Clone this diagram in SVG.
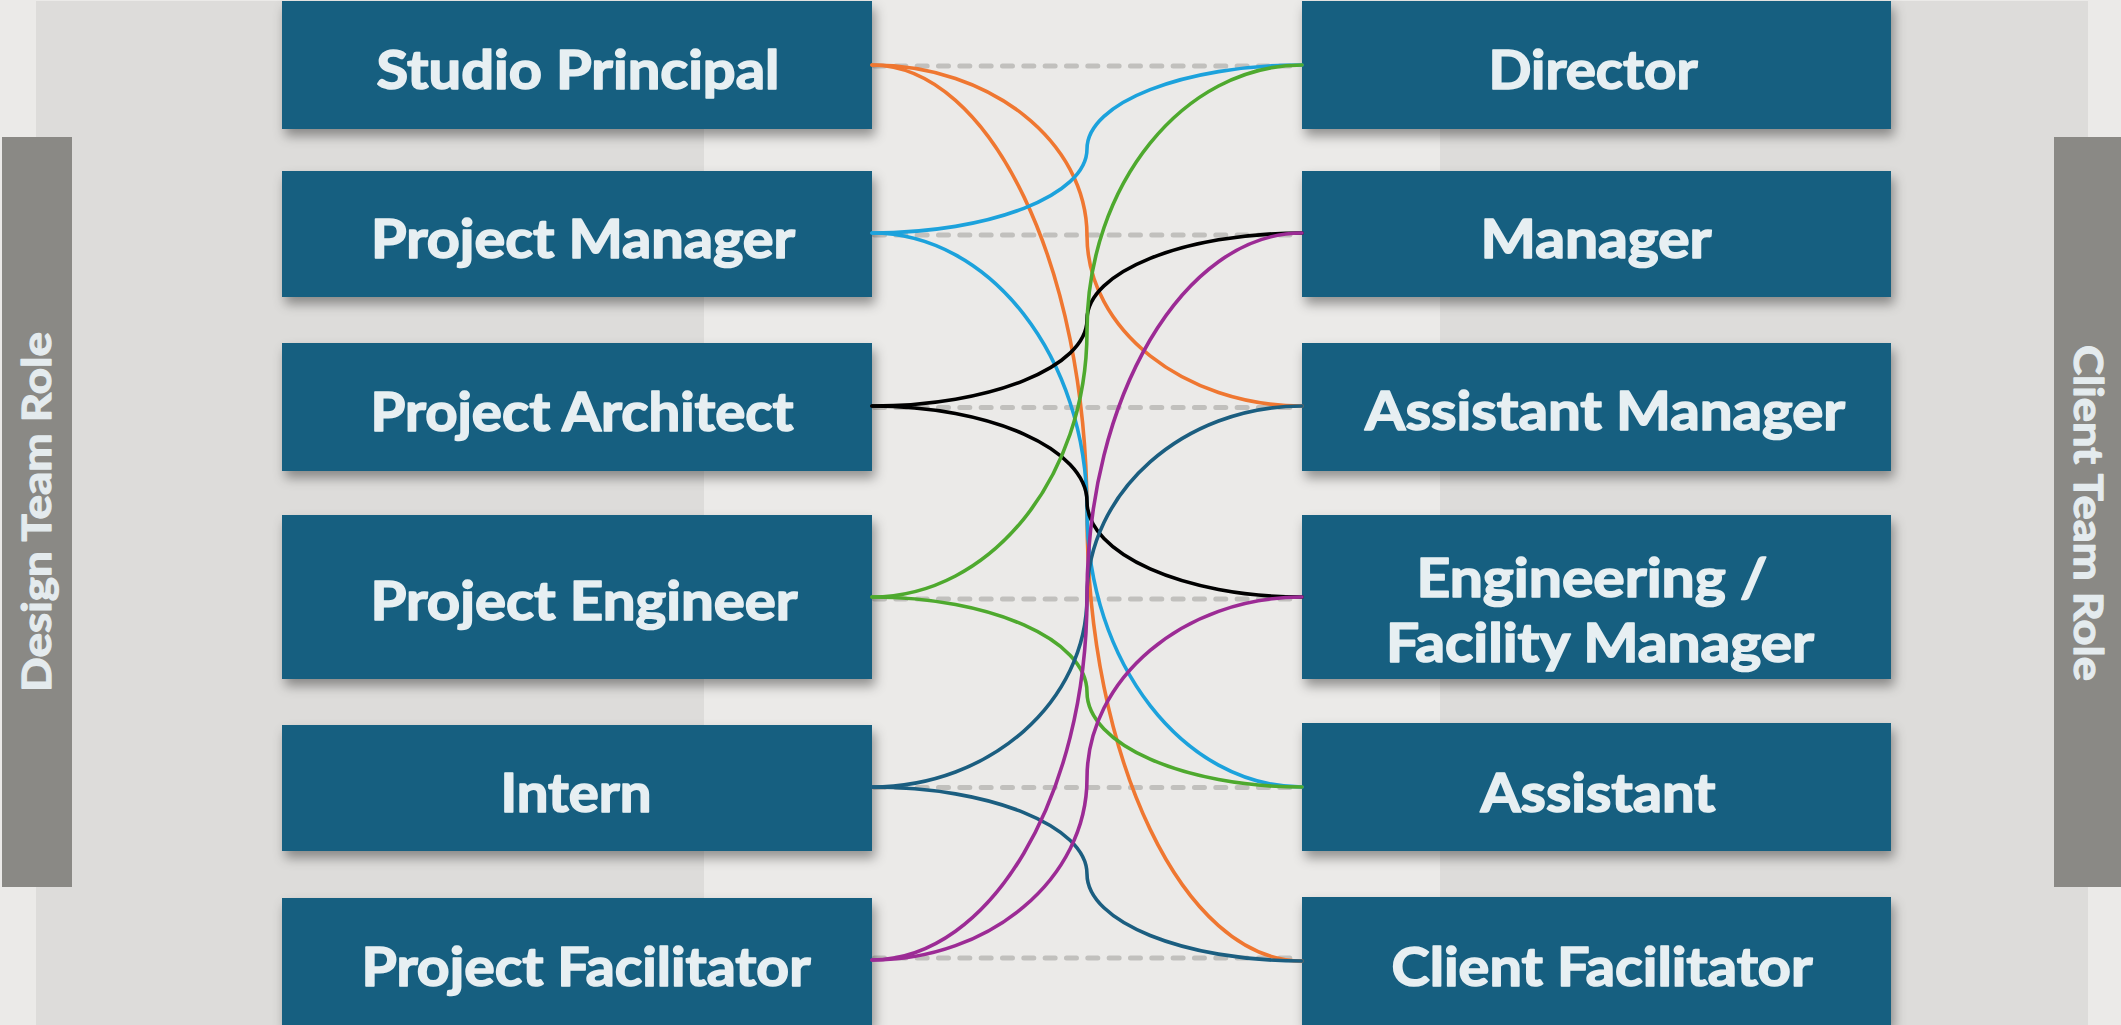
<svg xmlns="http://www.w3.org/2000/svg" width="2121" height="1025" viewBox="0 0 2121 1025">
  <defs>
    <filter id="boxShadow" x="-5%" y="-10%" width="115%" height="140%">
      <feDropShadow dx="3" dy="7" stdDeviation="6" flood-color="#000" flood-opacity="0.38"/>
    </filter>
    <style>
      .box { fill: #165e80; filter: url(#boxShadow); }
      .label { font-family: "Lato", "Liberation Sans", sans-serif; font-weight: 700; font-size: 54px; fill: #e7eff2; stroke: #e7eff2; stroke-width: 1.6; stroke-linejoin: round; text-anchor: middle; }
      .side { fill: #8a8985; }
      .sideText { font-family: "Lato", "Liberation Sans", sans-serif; font-weight: 700; font-size: 40px; fill: #e4ebee; stroke: #e4ebee; stroke-width: 1.2; stroke-linejoin: round; text-anchor: middle; }
      .guide { fill: none; stroke: #c1c0bd; stroke-width: 5; stroke-linecap: round; stroke-dasharray: 10 11.33; }
      .link { fill: none; stroke-width: 3.6; stroke-linecap: round; }
      .orange { stroke: #ef7731; }
      .blue { stroke: #1ca2dc; }
      .black { stroke: #000000; }
      .green { stroke: #4ea92e; }
      .teal { stroke: #1b5e80; }
      .purple { stroke: #9c2b95; }
    </style>
  </defs>

  <!-- background and column panels -->
  <rect x="0" y="0" width="2121" height="1025" fill="#ebeae8"/>
  <rect x="36" y="1" width="668" height="1024" fill="#dddcda"/>
  <rect x="1440" y="1" width="648" height="1024" fill="#dddcda"/>

  <!-- side headers -->
  <g id="design-team-role">
    <rect class="side" x="2" y="137" width="70" height="750"/>
    <text class="sideText" transform="translate(51 512) rotate(-90)" textLength="360" lengthAdjust="spacingAndGlyphs">Design Team Role</text>
  </g>
  <g id="client-team-role">
    <rect class="side" x="2054" y="137" width="67" height="750"/>
    <text class="sideText" transform="translate(2074 513) rotate(90)" textLength="336" lengthAdjust="spacingAndGlyphs">Client Team Role</text>
  </g>

  <!-- dashed row guides -->
  <g id="guides">
    <path class="guide" d="M874.5 66H1300"/>
    <path class="guide" d="M874.5 235H1300"/>
    <path class="guide" d="M874.5 407.5H1300"/>
    <path class="guide" d="M874.5 599H1300"/>
    <path class="guide" d="M874.5 787.5H1300"/>
    <path class="guide" d="M874.5 958H1300"/>
  </g>

  <!-- design team nodes -->
  <g id="studio-principal">
    <rect class="box" x="282" y="1" width="590" height="128"/>
    <text class="label" x="578" y="89" textLength="403" lengthAdjust="spacingAndGlyphs">Studio Principal</text>
  </g>
  <g id="project-manager">
    <rect class="box" x="282" y="171" width="590" height="126"/>
    <text class="label" x="583" y="258" textLength="424" lengthAdjust="spacingAndGlyphs">Project Manager</text>
  </g>
  <g id="project-architect">
    <rect class="box" x="282" y="343" width="590" height="128"/>
    <text class="label" x="582" y="431" textLength="423" lengthAdjust="spacingAndGlyphs">Project Architect</text>
  </g>
  <g id="project-engineer">
    <rect class="box" x="282" y="515" width="590" height="164"/>
    <text class="label" x="584" y="620" textLength="427" lengthAdjust="spacingAndGlyphs">Project Engineer</text>
  </g>
  <g id="intern">
    <rect class="box" x="282" y="725" width="590" height="126"/>
    <text class="label" x="576" y="812" textLength="151" lengthAdjust="spacingAndGlyphs">Intern</text>
  </g>
  <g id="project-facilitator">
    <rect class="box" x="282" y="898" width="590" height="127"/>
    <text class="label" x="586" y="986" textLength="449" lengthAdjust="spacingAndGlyphs">Project Facilitator</text>
  </g>

  <!-- client team nodes -->
  <g id="director">
    <rect class="box" x="1302" y="1" width="589" height="128"/>
    <text class="label" x="1593" y="89" textLength="209" lengthAdjust="spacingAndGlyphs">Director</text>
  </g>
  <g id="manager">
    <rect class="box" x="1302" y="171" width="589" height="126"/>
    <text class="label" x="1596" y="258" textLength="231" lengthAdjust="spacingAndGlyphs">Manager</text>
  </g>
  <g id="assistant-manager">
    <rect class="box" x="1302" y="343" width="589" height="128"/>
    <text class="label" x="1605" y="430" textLength="480" lengthAdjust="spacingAndGlyphs">Assistant Manager</text>
  </g>
  <g id="engineering-facility-manager">
    <rect class="box" x="1302" y="515" width="589" height="164"/>
    <text class="label" x="1592" y="597" textLength="351" lengthAdjust="spacingAndGlyphs">Engineering /</text>
    <text class="label" x="1600" y="662" textLength="428" lengthAdjust="spacingAndGlyphs">Facility Manager</text>
  </g>
  <g id="assistant">
    <rect class="box" x="1302" y="723" width="589" height="128"/>
    <text class="label" x="1598" y="812" textLength="235" lengthAdjust="spacingAndGlyphs">Assistant</text>
  </g>
  <g id="client-facilitator">
    <rect class="box" x="1302" y="897" width="589" height="128"/>
    <text class="label" x="1602" y="986" textLength="421" lengthAdjust="spacingAndGlyphs">Client Facilitator</text>
  </g>

  <!-- role connectors -->
  <g id="connectors">
    <path class="link orange" d="M872,65 C990.25,65 1087,141.7 1087,235.5 C1087,329.3 1183.75,406 1302,406"/>
    <path class="link orange" d="M872,65 C990.25,65 1087,266.6 1087,513 C1087,759.4 1183.75,961 1302,961"/>
    <path class="link blue" d="M872,233 C990.25,233 1087,195.2 1087,149 C1087,102.8 1183.75,65 1302,65"/>
    <path class="link blue" d="M872,233 C990.25,233 1087,357.7 1087,510 C1087,662.3 1183.75,787 1302,787"/>
    <path class="link black" d="M872,406 C990.25,406 1087,367.1 1087,319.5 C1087,271.9 1183.75,233 1302,233"/>
    <path class="link black" d="M872,406 C990.25,406 1087,449 1087,501.5 C1087,554 1183.75,597 1302,597"/>
    <path class="link green" d="M872,597 C990.25,597 1087,477.3 1087,331 C1087,184.7 1183.75,65 1302,65"/>
    <path class="link green" d="M872,597 C990.25,597 1087,639.8 1087,692 C1087,744.3 1183.75,787 1302,787"/>
    <path class="link teal" d="M872,787 C990.25,787 1087,701.3 1087,596.5 C1087,491.7 1183.75,406 1302,406"/>
    <path class="link teal" d="M872,787 C990.25,787 1087,826.2 1087,874 C1087,921.9 1183.75,961 1302,961"/>
    <path class="link purple" d="M872,960 C990.25,960 1087,796.4 1087,596.5 C1087,396.6 1183.75,233 1302,233"/>
    <path class="link purple" d="M872,960 C990.25,960 1087,878.3 1087,778.5 C1087,678.7 1183.75,597 1302,597"/>
  </g>
</svg>
